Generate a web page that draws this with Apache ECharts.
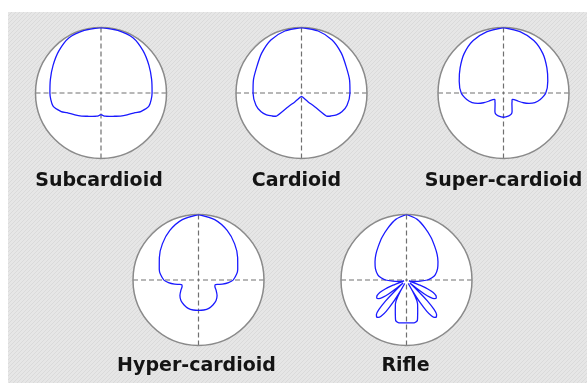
<!DOCTYPE html>
<html>
<head>
<meta charset="utf-8">
<script src="https://cdn.jsdelivr.net/npm/echarts@6/dist/echarts.min.js"></script>
<style>
  html, body { margin: 0; padding: 0; background: #ffffff; }
  #chart { width: 587px; height: 383px; }
</style>
</head>
<body>
<div id="chart"></div>
<script>
// Microphone polar patterns. Angles in degrees, 0 = on-axis (front, up),
// measured clockwise; levels are relative to the on-axis response (1 = rim).
// Each pattern is symmetric, so only the right half (0..180) is listed.
const patternNames = ['Subcardioid', 'Cardioid', 'Super-cardioid', 'Hyper-cardioid', 'Rifle'];

const subcardioidAngles = [0, 15, 30, 45, 60, 75, 90, 105, 115, 120, 130, 140, 150, 160, 170, 175, 180];
const subcardioidLevels = [1.0, 0.99, 0.975, 0.91, 0.845, 0.80, 0.78, 0.76, 0.67, 0.60, 0.52, 0.46, 0.41, 0.38, 0.36, 0.345, 0.33];

const cardioidAngles = [0, 15, 30, 45, 60, 75, 90, 105, 115, 122, 128, 132, 134, 136, 143, 155, 165, 180];
const cardioidLevels = [1.0, 0.98, 0.935, 0.86, 0.79, 0.76, 0.74, 0.72, 0.68, 0.63, 0.57, 0.53, 0.41, 0.29, 0.17, 0.09, 0.065, 0.05];

const supercardioidAngles = [0, 15, 30, 45, 60, 75, 90, 100, 107, 112, 116, 119, 122, 125, 130, 135, 140, 145, 150, 155, 160, 167, 180];
const supercardioidLevels = [1.0, 0.97, 0.925, 0.85, 0.765, 0.70, 0.645, 0.57, 0.50, 0.42, 0.34, 0.26, 0.19, 0.17, 0.17, 0.185, 0.20, 0.225, 0.26, 0.31, 0.345, 0.36, 0.37];

const hypercardioidAngles = [0, 15, 30, 45, 60, 75, 90, 95, 100, 103, 106, 112, 120, 130, 140, 150, 160, 170, 180];
const hypercardioidLevels = [1.0, 0.955, 0.875, 0.78, 0.69, 0.62, 0.53, 0.46, 0.37, 0.30, 0.265, 0.27, 0.31, 0.37, 0.415, 0.44, 0.46, 0.465, 0.465];

const rifleAngles = [0, 10, 20, 30, 40, 50, 60, 70, 80, 85, 90, 95, 100, 105, 108,
  109, 111, 113, 115, 118, 121, 124, 126, 128, 130, 131.5,
  133, 135, 137, 139, 141, 143, 145, 147, 149, 151, 153,
  155, 157, 160, 163, 165, 168, 170, 175, 180];
const rifleLevels = [1.0, 0.94, 0.84, 0.75, 0.67, 0.61, 0.555, 0.505, 0.445, 0.39, 0.32, 0.21, 0.13, 0.07, 0.04,
  0.06, 0.22, 0.36, 0.45, 0.51, 0.53, 0.51, 0.45, 0.34, 0.18, 0.07,
  0.20, 0.45, 0.62, 0.70, 0.725, 0.715, 0.67, 0.57, 0.40, 0.18, 0.06,
  0.40, 0.435, 0.50, 0.58, 0.64, 0.66, 0.665, 0.657, 0.655];

const patternAngles = [subcardioidAngles, cardioidAngles, supercardioidAngles, hypercardioidAngles, rifleAngles];
const patternLevels = [subcardioidLevels, cardioidLevels, supercardioidLevels, hypercardioidLevels, rifleLevels];

// layout of the five plots
const centers = [[101, 93], [301.5, 93], [503.5, 93], [198.5, 280], [406.5, 280]];
const plotRadius = 65.5;
const labelPos = [[99, 181], [296.5, 181], [503.5, 181], [196.5, 366], [405.5, 366]];

// full closed loop [radius, angle] from the right half, mirrored to the left
function fullPattern(angles, levels) {
  const pts = angles.map((a, i) => [levels[i], a]);
  for (let i = angles.length - 2; i >= 0; i--) {
    pts.push([levels[i], 360 - angles[i]]);
  }
  return pts;
}

// diagonal hatch used for the panel background
function hatchCanvas() {
  const c = document.createElement('canvas');
  c.width = 4; c.height = 4;
  const g = c.getContext('2d');
  g.fillStyle = '#e6e6e6';
  g.fillRect(0, 0, 4, 4);
  g.fillStyle = '#dadada';
  for (let i = 0; i < 4; i++) g.fillRect(i, 3 - i, 1, 1);
  return c;
}

const chart = echarts.init(document.getElementById('chart'), null, { renderer: 'canvas' });

const option = {
  animation: false,
  backgroundColor: '#ffffff',
  polar: centers.map(c => ({ center: c, radius: plotRadius })),
  // the angle axis draws the rim and the dashed cross
  angleAxis: centers.map((c, i) => ({
    polarIndex: i,
    z: 2,
    type: 'value',
    min: 0,
    max: 360,
    interval: 90,
    startAngle: 90,
    clockwise: true,
    axisLine: { show: true, lineStyle: { color: '#8a8a8a', width: 1.5 } },
    axisTick: { show: false },
    axisLabel: { show: false },
    splitLine: { show: true, lineStyle: { color: '#707070', width: 1.2, type: [5, 3] } },
    splitArea: { show: false }
  })),
  // the radius axis only paints the white disc underneath
  radiusAxis: centers.map((c, i) => ({
    polarIndex: i,
    z: 1,
    type: 'value',
    min: 0,
    max: 1,
    interval: 1,
    axisLine: { show: false },
    axisTick: { show: false },
    axisLabel: { show: false },
    splitLine: { show: false },
    splitArea: { show: true, areaStyle: { color: ['#ffffff'] } }
  })),
  series: patternNames.map((name, i) => ({
    name: name,
    type: 'line',
    coordinateSystem: 'polar',
    polarIndex: i,
    data: fullPattern(patternAngles[i], patternLevels[i]),
    smooth: 0.25,
    showSymbol: false,
    lineStyle: { color: '#1a1aff', width: 1.3 },
    z: 5
  })),
  graphic: {
    elements: [
      {
        type: 'rect',
        z: -100,
        silent: true,
        shape: { x: 8, y: 12, width: 579, height: 371 },
        style: { fill: { image: hatchCanvas(), repeat: 'repeat' } }
      }
    ].concat(patternNames.map((name, i) => ({
      type: 'text',
      z: 100,
      silent: true,
      x: labelPos[i][0],
      y: labelPos[i][1],
      style: {
        text: name,
        fill: '#141414',
        font: 'bold 19px "DejaVu Sans"',
        textAlign: 'center',
        textVerticalAlign: 'middle'
      }
    })))
  }
};

chart.setOption(option);
</script>
</body>
</html>
